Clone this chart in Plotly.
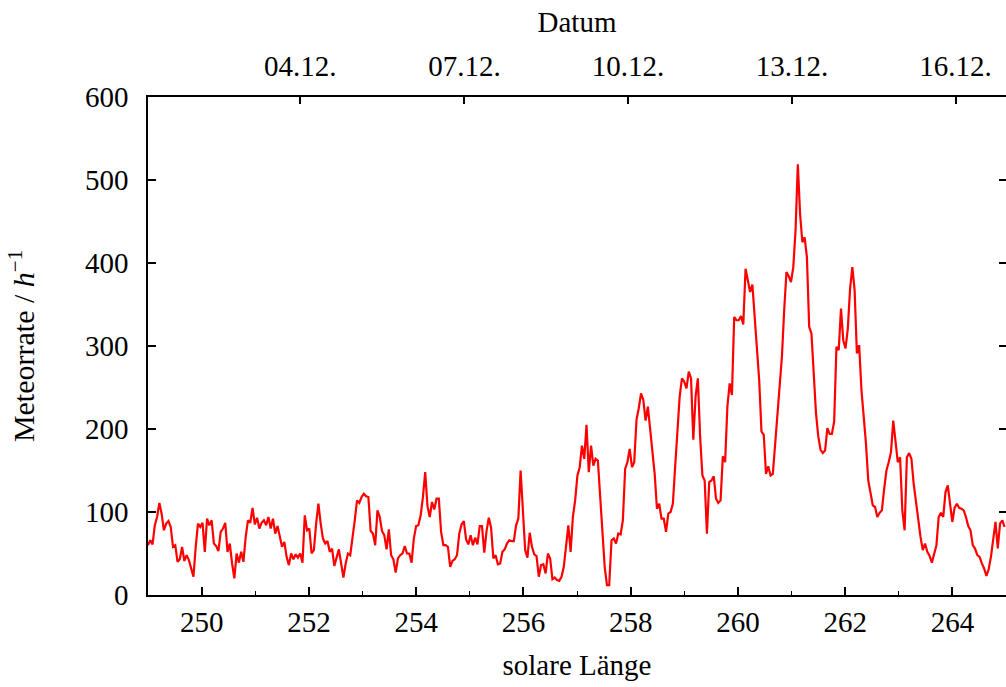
import numpy as np
import plotly.graph_objects as go

# Hourly meteor rates, starting at solar longitude 249.0 deg
LAMBDA_START = 249.0
DEG_PER_HOUR = 0.04237  # Sun's motion along the ecliptic per hour in December

rate = [
    60, 66, 61, 84, 94, 111, 98, 78, 86, 89, 82, 58, 60, 40, 43, 58, 41, 48, 42, 32,
    22, 58, 86, 82, 87, 52, 92, 84, 90, 62, 59, 53, 76, 80, 87, 52, 62, 38, 20, 50,
    39, 52, 40, 70, 90, 87, 105, 85, 93, 80, 87, 90, 84, 94, 80, 92, 74, 83, 72, 58,
    64, 46, 36, 50, 43, 49, 45, 50, 39, 96, 78, 80, 50, 54, 86, 110, 86, 68, 62, 65,
    52, 56, 35, 47, 55, 38, 21, 38, 50, 48, 66, 90, 114, 111, 118, 122, 119, 118, 77, 74,
    60, 102, 94, 77, 72, 55, 79, 48, 43, 27, 44, 48, 50, 59, 50, 50, 39, 68, 83, 84,
    96, 118, 148, 107, 94, 112, 103, 116, 116, 76, 60, 60, 58, 34, 41, 43, 48, 74, 85, 89,
    67, 61, 72, 60, 69, 61, 83, 83, 51, 77, 93, 81, 44, 48, 37, 38, 52, 55, 62, 66,
    65, 65, 84, 92, 150, 96, 54, 45, 75, 58, 49, 47, 22, 36, 37, 26, 50, 44, 19,
    21, 18, 17, 22, 34, 58, 84, 52, 94, 114, 144, 154, 180, 164, 205, 148, 180, 156, 164, 162,
    122, 70, 34, 12, 12, 66, 68, 62, 74, 73, 90, 152, 160, 176, 154, 160, 211, 225, 243, 235,
    210, 227, 199, 176, 146, 104, 110, 92, 92, 76, 98, 100,
    110, 154, 195, 239, 261, 257, 249, 269, 261, 187, 239, 261, 191, 144, 138, 74, 136, 138, 143, 116,
    111, 114, 167, 160, 227, 255, 241, 335, 331, 331, 336, 326, 393, 377, 365, 374, 331, 295, 259, 197,
    193, 146, 155, 144, 146, 181, 219, 247,
    287, 343, 389, 384, 377, 395, 439, 519, 459, 425, 431, 407, 323, 315, 271, 219, 191, 175, 171, 174,
    201, 194, 194, 209, 299, 295, 345, 307, 297, 321, 369, 395, 367, 291, 301, 247, 215, 182, 138,
    120, 108, 106, 94, 99, 102, 128, 150, 160, 172, 210, 183, 160, 166, 102, 78, 166, 171, 164, 134,
    110, 86, 70, 54, 62, 52, 47, 39, 50, 60, 94, 99, 94, 124, 132, 110, 88, 105, 110, 105,
    104, 102, 94, 83, 78, 60, 56, 48, 46, 38, 32, 23, 31, 46, 66, 88, 56, 86, 90, 82,
]
lam = LAMBDA_START + np.arange(len(rate)) * DEG_PER_HOUR

# Axis ticks
x_ticks = [250, 252, 254, 256, 258, 260, 262, 264]
y_ticks = [0, 100, 200, 300, 400, 500, 600]
date_labels = ["04.12.", "07.12.", "10.12.", "13.12.", "16.12."]
date_lam = [251.84, 254.90, 257.95, 261.01, 264.06]

X_RANGE = [249, 265]
Y_RANGE = [0, 600]

FONT = dict(family="Liberation Serif", size=29, color="black")
YTITLE_FONT = dict(family="Liberation Serif", size=30, color="black")
AX = dict(showgrid=False, zeroline=False, linecolor="black", linewidth=1.5,
          tickcolor="black", tickwidth=1.5, tickfont=FONT)

fig = go.Figure()
fig.add_trace(go.Scatter(x=lam, y=rate, mode="lines",
                         line=dict(color="#ff0000", width=2.2),
                         showlegend=False, hoverinfo="skip"))
# carrier for the date axis (top) and the mirrored rate ticks (right)
fig.add_trace(go.Scatter(x=[lam[0]], y=[rate[0]], xaxis="x2", yaxis="y2",
                         mode="markers", marker=dict(opacity=0),
                         showlegend=False, hoverinfo="skip"))

fig.update_layout(
    width=1006, height=687,
    margin=dict(l=148, r=0, t=97, b=92),
    paper_bgcolor="white", plot_bgcolor="white",
    font=FONT,
    xaxis=dict(range=X_RANGE, tickmode="array", tickvals=x_ticks,
               ticks="inside", ticklen=8, showline=True, mirror=False,
               minor=dict(ticks="inside", ticklen=4, dtick=1, tick0=249,
                          tickcolor="black", tickwidth=1.2),
               ticklabelstandoff=0,
               title=dict(text="solare Länge", font=FONT, standoff=18),
               **AX),
    yaxis=dict(range=Y_RANGE, tickmode="array", tickvals=y_ticks,
               ticks="inside", ticklen=8, showline=True, mirror=False,
               ticklabelstandoff=12,
               title=dict(text="Meteorrate / <i>h</i><sup>−1</sup>", font=YTITLE_FONT, standoff=41),
               **AX),
    xaxis2=dict(range=X_RANGE, overlaying="x", side="top", anchor="y",
                tickmode="array", tickvals=date_lam, ticktext=date_labels,
                ticks="inside", ticklen=7, showline=True,
                ticklabelstandoff=8,
                title=dict(text="Datum", font=FONT, standoff=9),
                **AX),
    yaxis2=dict(range=Y_RANGE, overlaying="y", side="right", anchor="x",
                tickmode="array", tickvals=y_ticks, showticklabels=False,
                ticks="inside", ticklen=7, showline=False,
                **AX),
)

fig.write_html("out.html")
